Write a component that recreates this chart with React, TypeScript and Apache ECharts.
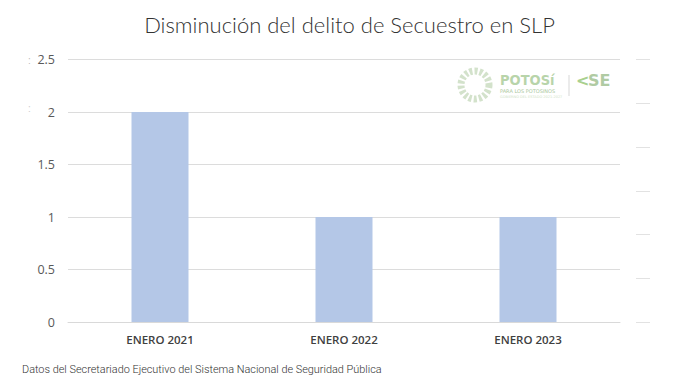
import React, { useEffect, useRef } from "react";
import * as echarts from "echarts";

const categories = ["ENERO 2021", "ENERO 2022", "ENERO 2023"];
const values = [2, 1, 1];
const titleText = "Disminución del delito de Secuestro en SLP";
const sourceText = "Datos del Secretariado Ejecutivo del Sistema Nacional de Seguridad Pública";

export default function App() {
  const ref = useRef<HTMLDivElement>(null);
  useEffect(() => {
    document.body.style.margin = "0";
    const chart = echarts.init(ref.current!, null, { renderer: "svg" });
    chart.setOption({
      animation: false,
      backgroundColor: "#ffffff",
      title: {
        text: titleText,
        left: "center",
        top: 8,
        textStyle: {
          fontFamily: "Lato",
          fontWeight: 300,
          fontSize: 22,
          color: "#333333",
        },
      },
      grid: { left: 68, right: 79, top: 59.5, bottom: 66 },
      xAxis: {
        type: "category",
        data: categories,
        axisLine: { lineStyle: { color: "#d9d9d9" } },
        axisTick: { show: false },
        axisLabel: {
          margin: 11,
          fontFamily: "Open Sans",
          fontWeight: 600,
          fontSize: 11.5,
          color: "#404040",
        },
      },
      yAxis: [
        {
          type: "value",
          min: 0,
          max: 2.5,
          interval: 0.5,
          axisLine: { show: false },
          axisTick: { show: false },
          splitLine: { lineStyle: { color: "#dcdcdc" } },
          axisLabel: {
            margin: 13,
            fontFamily: "Open Sans",
            fontSize: 12.5,
            color: "#595959",
          },
        },
        {
          type: "value",
          position: "right",
          offset: 16,
          min: 0,
          max: 6,
          interval: 1,
          axisLine: { show: false },
          axisTick: { show: true, length: 14, lineStyle: { color: "#e2e2e2" } },
          splitLine: { show: false },
          axisLabel: { show: false },
        },
      ],
      series: [
        {
          type: "bar",
          data: values,
          barWidth: 57,
          itemStyle: { color: "#b4c7e7" },
          silent: true,
        },
      ],
      graphic: [
        {
          type: "text",
          left: 22,
          top: 364,
          style: {
            text: sourceText,
            fontFamily: "Roboto",
            fontWeight: 300,
            fontSize: 10.9,
            fill: "#333333",
          },
        },
        { type: "text", left: 28, top: 55, style: { text: ":", fontSize: 10, fill: "#bbbbbb" } },
        { type: "text", left: 28, top: 103, style: { text: ":", fontSize: 10, fill: "#cccccc" } },
        {
          type: "circle",
          shape: { cx: 475, cy: 85, r: 14 },
          style: { fill: "none", stroke: "#d3e2cb", lineWidth: 7, lineDash: [3, 2] },
        },
        {
          type: "text",
          left: 500,
          top: 72,
          style: {
            text: "POTOSí",
            fontFamily: "DejaVu Sans Condensed, DejaVu Sans",
            fontWeight: "bold",
            fontSize: 14.5,
            fill: "#b8d4aa",
          },
        },
        {
          type: "text",
          left: 500,
          top: 88,
          style: { text: "PARA LOS POTOSINOS", fontFamily: "DejaVu Sans", fontSize: 5, fill: "#a9c79b" },
        },
        {
          type: "text",
          left: 500,
          top: 95,
          style: { text: "GOBIERNO DEL ESTADO 2021-2027", fontFamily: "DejaVu Sans", fontSize: 3.5, fill: "#cfdfc6" },
        },
        {
          type: "line",
          shape: { x1: 569, y1: 75, x2: 569, y2: 96 },
          style: { stroke: "#d7d7d7", lineWidth: 1 },
        },
        {
          type: "text",
          left: 576,
          top: 72,
          style: { text: "<", fontFamily: "DejaVu Sans", fontWeight: "bold", fontSize: 16, fill: "#a9d08e" },
        },
        {
          type: "text",
          left: 588,
          top: 72,
          style: { text: "SE", fontFamily: "DejaVu Sans", fontWeight: "bold", fontSize: 16, fill: "#b0cba3" },
        },
      ],
    });
    return () => chart.dispose();
  }, []);
  return <div ref={ref} style={{ width: 699, height: 388 }} />;
}
